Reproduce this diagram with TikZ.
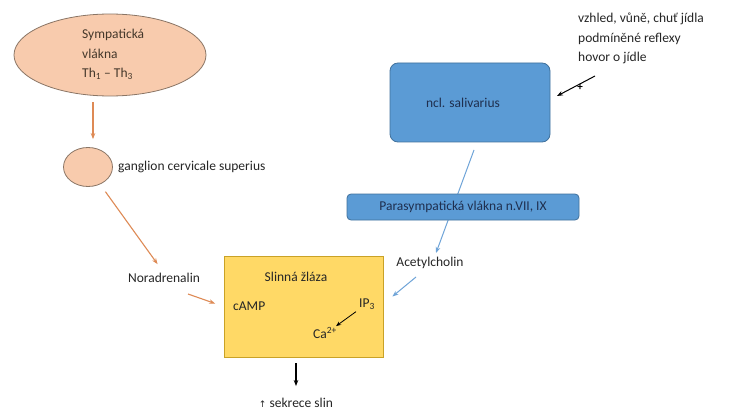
\documentclass[tikz,border=0pt]{standalone}
\usepackage{fontspec}
\setmainfont{Carlito}
\newfontfamily\symfont{DejaVu Sans}
\usetikzlibrary{shapes.geometric,arrows.meta,calc}
\definecolor{peach}{HTML}{F8CBAD}
\definecolor{peachline}{HTML}{8A7565}
\definecolor{orarrow}{HTML}{DE8A55}
\definecolor{bluefill}{HTML}{5B9BD5}
\definecolor{blueline}{HTML}{41719C}
\definecolor{bluearrow}{HTML}{6FA4D8}
\definecolor{yelfill}{HTML}{FFD966}
\definecolor{yelline}{HTML}{C9A227}
\definecolor{txt}{HTML}{262626}
\definecolor{navytxt}{HTML}{1F2F4F}
\begin{document}
\begin{tikzpicture}[x=1pt,y=-1pt,
  every node/.style={font=\fontsize{13.5}{19.5}\selectfont, text=txt, inner sep=0pt},
  lbl/.style={anchor=west},
  oarrow/.style={draw=orarrow, line width=1.1pt, -{Stealth[length=6pt,width=4.5pt]}},
  barrow/.style={draw=bluearrow, line width=1pt, -{Stealth[length=6pt,width=4.5pt]}},
  karrow/.style={draw=black, line width=1.1pt, -{Stealth[length=6pt,width=4.5pt]}},
  bluebox/.style={draw=blueline, fill=bluefill, rounded corners=8pt, line width=0.8pt, text=navytxt}
]
\useasboundingbox (0,0) rectangle (740,412);
\fill[white] (0,0) rectangle (740,412);

% sympathetic
\node[ellipse, draw=peachline, fill=peach, line width=0.8pt, minimum width=192pt, minimum height=82pt] (sym) at (110,55) {};
\node[align=left, anchor=north west, text=txt!80!brown] (symtxt) at (82,29) {Sympatická\\vlákna\\Th\textsubscript{1} – Th\textsubscript{3}};
\node[ellipse, draw=peachline, fill=peach, line width=0.8pt, minimum width=49pt, minimum height=39pt] (gang) at (88,167) {};
\node[lbl] (ganglbl) at (118,167) {ganglion cervicale superius};
\draw[oarrow, shorten <=6pt, shorten >=8pt] ([xshift=5pt]gang.north |- sym.south) -- ([xshift=5pt]gang.north);

\node (nor) at (164,278) {Noradrenalin};
\draw[oarrow, shorten <=9pt, shorten >=11pt] (gang.-55) -- (nor.north);

% salivary gland
\node[draw=yelline, fill=yelfill, line width=0.8pt, minimum width=159pt, minimum height=101pt] (slz) at (303.5,306.5) {};
\node (slztxt) at (296,277) {Slinná žláza};
\node[lbl] (camp) at (233,306) {cAMP};
\node[lbl] (ip) at (359,304) {IP\textsubscript{3}};
\node[lbl] (ca) at (313,333) {Ca\textsuperscript{2+}};
\coordinate (na1) at (188,294);
\draw[oarrow, shorten >=9pt] (na1) -- (slz.west);
\draw[karrow, line width=0.8pt, -{Stealth[length=5pt,width=4pt]}] ($(ip.south west)+(-3,2)$) -- ($(ca.north east)+(-1,-1)$);

\node (sek) at (296,403) {{\symfont\fontsize{9}{9}\selectfont ↑} sekrece slin};
\draw[karrow, shorten <=6pt, shorten >=12pt] (sek.north |- slz.south) -- (sek.north);

% parasympathetic
\node[bluebox, minimum width=160pt, minimum height=79pt] (ncl) at (470,102.5) {\hspace*{-14pt}ncl. salivarius};
\node (ace) at (430,263) {Acetylcholin};
\coordinate (p1) at (474,150);
\coordinate (p2) at (436,253);
\draw[barrow] (p1) -- (p2);
\node[bluebox, rounded corners=4pt, minimum width=232pt, minimum height=26pt] (para) at (463,207) {Parasympatická vlákna n.VII, IX};
\coordinate (a1) at (416,277);
\draw[barrow, shorten <=0pt] (a1) -- ($(slz.east)+(9,-10)$);

% top-right input
\node[align=left, anchor=north west] (inp) at (578,13) {vzhled, vůně, chuť jídla\\podmíněné reflexy\\hovor o jídle};
\coordinate (i1) at (595,76);
\coordinate (i2) at (557,96);
\draw[karrow, line width=1pt] (i1) -- (i2);
\node[font=\bfseries\fontsize{11}{11}\selectfont, text=black] (plus) at (580,87) {+};
\end{tikzpicture}
\end{document}
